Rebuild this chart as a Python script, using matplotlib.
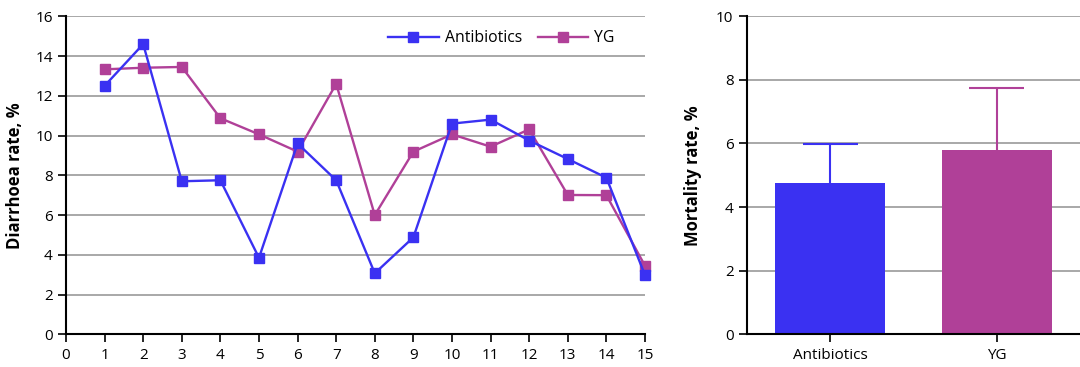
import matplotlib.pyplot as plt

plt.rcParams['font.family'] = ['Open Sans', 'DejaVu Sans']
plt.rcParams['font.size'] = 11

# Data
days = list(range(1, 16))
antibiotics_rate = [12.5, 14.6, 7.7, 7.75, 3.85, 9.6, 7.75, 3.07, 4.88,
                    10.6, 10.8, 9.75, 8.82, 7.88, 2.98]
yg_rate = [13.33, 13.41, 13.45, 10.87, 10.06, 9.19, 12.6, 6.0, 9.19,
           10.06, 9.44, 10.31, 7.01, 7.0, 3.45]

groups = ['Antibiotics', 'YG']
mortality = [4.76, 5.81]
mortality_err = [1.23, 1.94]

blue = '#3a31f2'
magenta = '#b04098'
grid_col = '#999999'

fig = plt.figure(figsize=(10.8, 3.67), dpi=100)
ax1 = fig.add_axes([0.0611, 0.089, 0.5361, 0.8667])
ax2 = fig.add_axes([0.6914, 0.089, 0.3086, 0.8667])

# left panel: diarrhoea rate by day
ax1.plot(days, antibiotics_rate, color=blue, lw=1.7, marker='s', ms=7.5,
         label='Antibiotics', zorder=3, clip_on=False)
ax1.plot(days, yg_rate, color=magenta, lw=1.7, marker='s', ms=7.5,
         label='YG', zorder=2, clip_on=False)
ax1.set_xlim(0, 15)
ax1.set_ylim(0, 16)
ax1.set_xticks(range(0, 16))
ax1.set_yticks(range(0, 17, 2))
ax1.set_ylabel('Diarrhoea rate, %', fontweight='bold', fontsize=12,
               labelpad=8)
ax1.yaxis.grid(True, color=grid_col, lw=1.2)
ax1.set_axisbelow(True)
ax1.legend(loc='upper right', bbox_to_anchor=(0.972, 1.0), frameon=False,
           ncol=2, handlelength=3.2, columnspacing=1.0, handletextpad=0.4,
           fontsize=11.3)

# right panel: mortality rate
xpos = list(range(len(groups)))
ax2.bar(xpos, mortality, width=0.66, color=[blue, magenta], zorder=2)
tops = [m + e for m, e in zip(mortality, mortality_err)]
ax2.vlines(xpos, mortality, tops, colors=[blue, magenta], lw=1.5, zorder=1)
ax2.hlines(tops, [x - 0.165 for x in xpos], [x + 0.165 for x in xpos],
           colors=[blue, magenta], lw=1.5, zorder=1)
ax2.set_xlim(-0.5, 1.5)
ax2.set_ylim(0, 10)
ax2.set_xticks(xpos)
ax2.set_xticklabels(groups)
ax2.set_yticks(range(0, 11, 2))
ax2.set_ylabel('Mortality rate, %', fontweight='bold', fontsize=12,
               labelpad=10)
ax2.yaxis.grid(True, color=grid_col, lw=1.2)
ax2.set_axisbelow(True)

for ax in (ax1, ax2):
    ax.spines['top'].set_visible(False)
    ax.spines['right'].set_visible(False)
    ax.spines['left'].set_linewidth(1.5)
    ax.spines['bottom'].set_linewidth(1.5)
    ax.tick_params(axis='both', direction='out', length=6, width=1.2,
                   colors='black', labelsize=11)

plt.savefig('out.png', dpi=100)
